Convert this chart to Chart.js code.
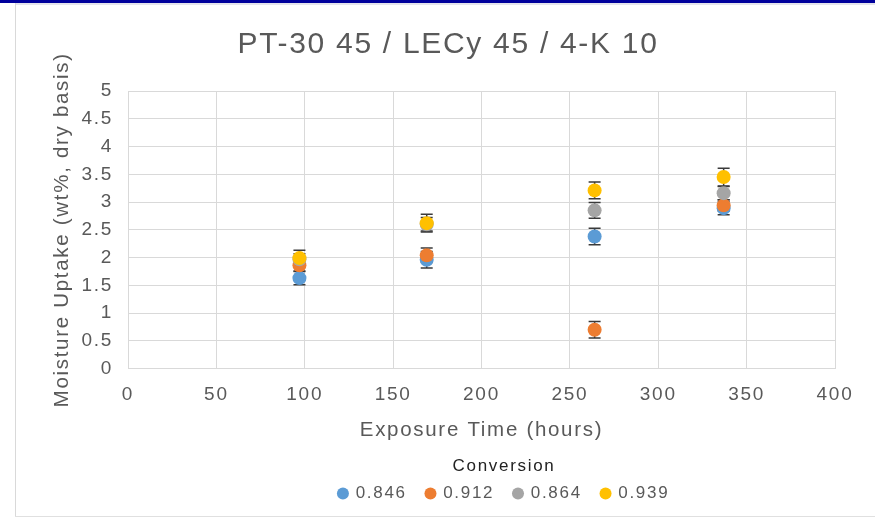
<!DOCTYPE html>
<html>
<head>
  <meta charset="UTF-8" />
  <title>Moisture uptake</title>
  <script src="https://cdn.jsdelivr.net/npm/chart.js"></script>
  <style>
    body { margin: 0; background: #fff; }
    .wrap { position: relative; width: 875px; height: 520px; overflow: hidden; }
    .topbar { position: absolute; left: 0; top: 0; width: 875px; height: 3px; background: #00009c; }
    .topline { position: absolute; left: 15px; top: 3px; width: 860px; height: 2px; background: #e4e4ec; }
    .leftline { position: absolute; left: 15px; top: 3px; width: 1px; height: 514px; background: #d9d9d9; }
    .bottomline { position: absolute; left: 15px; top: 516px; width: 860px; height: 1px; background: #e0e0e0; }
    canvas { position: absolute; left: 0; top: 0; }
  </style>
</head>
<body>
  <div class="wrap">
    <canvas id="chart" width="875" height="520"></canvas>
    <div class="topbar"></div>
    <div class="topline"></div>
    <div class="leftline"></div>
    <div class="bottomline"></div>
  </div>
  <script>
    // exposure times (hours) and the four conversion series
    const hours = [97, 169, 264, 337];
    const conversions = ["0.846", "0.912", "0.864", "0.939"];
    const uptake846 = [1.63, 1.96, 2.38, 2.89];
    const uptake912 = [1.86, 2.04, 0.70, 2.94];
    const uptake864 = [1.97, 2.60, 2.85, 3.16];
    const uptake939 = [1.99, 2.62, 3.21, 3.45];
    const err846 = [0.12, 0.15, 0.15, 0.12];
    const err912 = [0.10, 0.13, 0.15, 0.10];
    const err864 = [0.10, 0.12, 0.14, 0.12];
    const err939 = [0.14, 0.16, 0.15, 0.16];
    const colors = ["#5b9bd5", "#ed7d31", "#a5a5a5", "#ffc000"];

    const series = [uptake846, uptake912, uptake864, uptake939];
    const errors = [err846, err912, err864, err939];
    const font = "'Liberation Sans', Arial, sans-serif";

    // the reference text is a little wider than Arial
    const spacing = {
      id: "spacing",
      beforeUpdate(chart) { chart.ctx.letterSpacing = "1.7px"; },
      beforeDraw(chart) { chart.ctx.letterSpacing = "1.7px"; },
      // legend sits a bit right of the plot centre in the original
      afterLayout(chart) {
        chart.legend.left += 56;
        chart.legend.right += 56;
      }
    };

    const errorBars = {
      id: "errorBars",
      beforeDatasetsDraw(chart) {
        const { ctx, scales: { x, y } } = chart;
        ctx.save();
        ctx.strokeStyle = "#3a3a3a";
        ctx.lineWidth = 1.5;
        series.forEach((vals, i) => {
          vals.forEach((v, j) => {
            const px = x.getPixelForValue(hours[j]);
            const top = y.getPixelForValue(v + errors[i][j]);
            const bot = y.getPixelForValue(v - errors[i][j]);
            ctx.beginPath();
            ctx.moveTo(px, top); ctx.lineTo(px, bot);
            ctx.moveTo(px - 6, top); ctx.lineTo(px + 6, top);
            ctx.moveTo(px - 6, bot); ctx.lineTo(px + 6, bot);
            ctx.stroke();
          });
        });
        ctx.restore();
      }
    };

    const datasets = series.map((vals, i) => ({
      label: conversions[i],
      data: vals.map((v, j) => ({ x: hours[j], y: v })),
      backgroundColor: colors[i],
      borderColor: colors[i],
      borderWidth: 0,
      pointRadius: 7,
      pointHoverRadius: 7,
      order: series.length - i
    }));

    new Chart(document.getElementById("chart"), {
      type: "scatter",
      data: { datasets: datasets },
      plugins: [spacing, errorBars],
      options: {
        responsive: false,
        animation: false,
        layout: { padding: { left: 61, right: 40, top: 0, bottom: 8 } },
        plugins: {
          tooltip: { enabled: false },
          title: {
            display: true,
            text: "PT-30 45 / LECy 45 / 4-K 10",
            color: "#595959",
            font: { family: font, size: 30, weight: "normal" },
            padding: { top: 27, bottom: 28 }
          },
          legend: {
            position: "bottom",
            title: {
              display: true,
              text: "Conversion",
              color: "#222",
              font: { family: font, size: 17 },
              padding: { top: 2, bottom: -12.5 }
            },
            labels: {
              usePointStyle: true,
              boxWidth: 8.5,
              boxHeight: 8.5,
              padding: 19.5,
              color: "#595959",
              font: { family: font, size: 17 },
              sort: (a, b) => a.datasetIndex - b.datasetIndex
            }
          }
        },
        scales: {
          x: {
            min: 0,
            max: 400,
            afterFit: (s) => { s.height = 87; },
            ticks: { stepSize: 50, color: "#595959", padding: 15, font: { family: font, size: 19 } },
            grid: { color: "#d9d9d9", drawTicks: false },
            border: { color: "#d9d9d9" },
            title: {
              display: true,
              text: "Exposure Time (hours)",
              color: "#595959",
              font: { family: font, size: 20.5 },
              padding: { top: 0, bottom: 13 }
            }
          },
          y: {
            min: 0,
            max: 5,
            afterFit: (s) => { s.width = 67; },
            ticks: {
              stepSize: 0.5,
              color: "#595959",
              padding: 15,
              font: { family: font, size: 19 },
              callback: (v) => v.toString()
            },
            grid: { color: "#d9d9d9", drawTicks: false },
            border: { color: "#d9d9d9" },
            title: {
              display: true,
              text: "Moisture Uptake (wt%, dry basis)",
              color: "#595959",
              font: { family: font, size: 20.5 },
              padding: { top: -11, bottom: 0 }
            }
          }
        }
      }
    });
  </script>
</body>
</html>
